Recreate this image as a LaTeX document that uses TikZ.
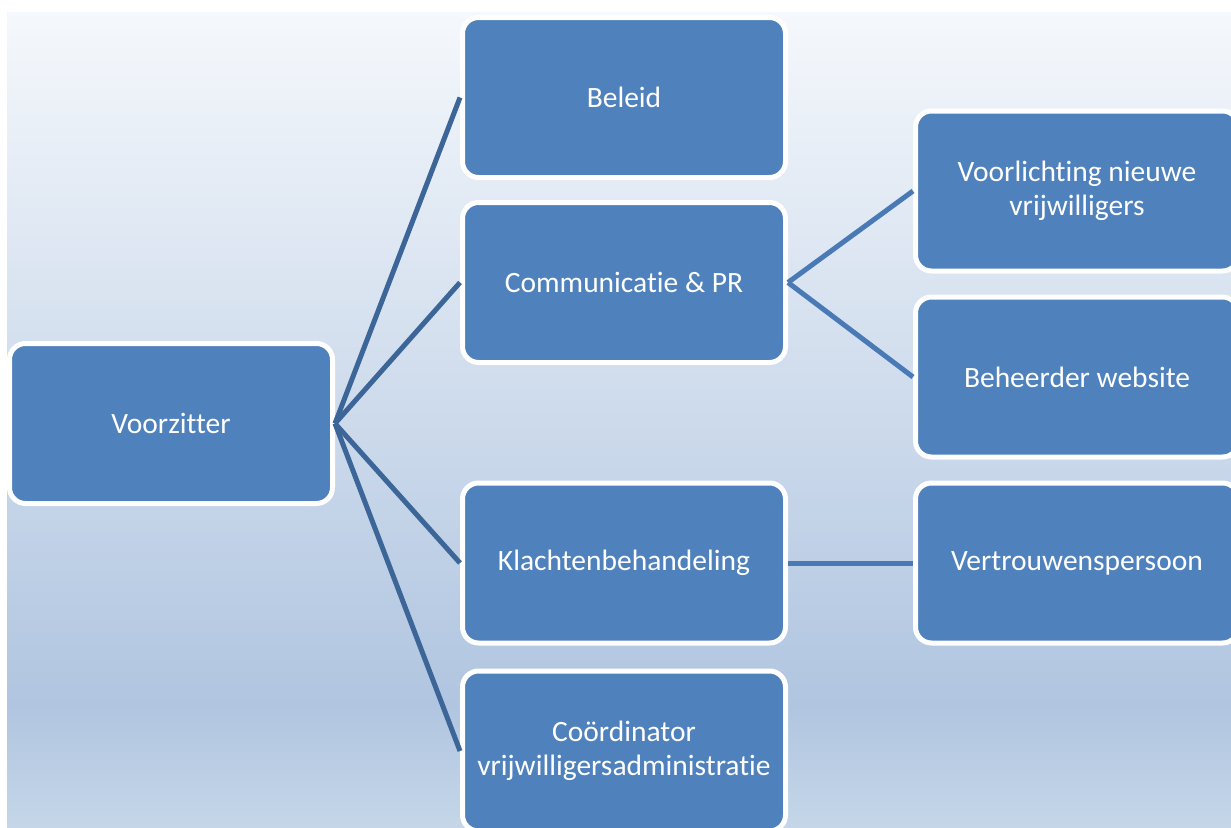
\documentclass[tikz,border=0pt]{standalone}
\usepackage{fontspec}
\setmainfont{Carlito}[Ligatures=NoCommon]

\definecolor{boxblue}{HTML}{4F81BD}
\definecolor{linkdark}{HTML}{3C6598}
\definecolor{linklight}{HTML}{4A7AB5}
\definecolor{bgtop}{HTML}{F5F8FC}
\definecolor{bgmid}{HTML}{B0C5E0}
\definecolor{bgbottom}{HTML}{C5D6E8}

\begin{document}
\begin{tikzpicture}[x=1pt, y=-1pt,
    box/.style={draw=white, line width=5pt, fill=boxblue, rounded corners=16pt,
        minimum width=323pt, minimum height=160pt, text=white, align=center,
        font=\fontsize{29.5}{34}\selectfont},
    link/.style={line width=5pt, linkdark},
    sublink/.style={line width=5pt, linklight}]
    \useasboundingbox (0,0) rectangle (1231,827);
    \clip (0,0) rectangle (1231,827);
    % background
    \shade[top color=bgtop, bottom color=bgmid] (7,12) rectangle (1231,706);
    \shade[top color=bgmid, bottom color=bgbottom] (7,705) rectangle (1231,827);
    % boxes
    \node[box] (chair) at (171,423.5) {Voorzitter};
    \node[box] (policy) at (624,97.5) {Beleid};
    \node[box] (comms) at (624,282.5) {Communicatie \& PR};
    \node[box] (complaints) at (624,563) {Klachtenbehandeling};
    \node[box] (coord) at (624,751) {Coördinator\\vrijwilligersadministratie};
    \node[box] (intro) at (1077,191) {Voorlichting nieuwe\\vrijwilligers};
    \node[box] (web) at (1077,377) {Beheerder website};
    \node[box] (trust) at (1077,563) {Vertrouwenspersoon};
    % links
    \draw[link] (chair.east) -- (policy.west);
    \draw[link] (chair.east) -- (comms.west);
    \draw[link] (chair.east) -- (complaints.west);
    \draw[link] (chair.east) -- (coord.west);
    \draw[sublink] (comms.east) -- (intro.west);
    \draw[sublink] (comms.east) -- (web.west);
    \draw[sublink] (complaints.east) -- (trust.west);
\end{tikzpicture}
\end{document}
